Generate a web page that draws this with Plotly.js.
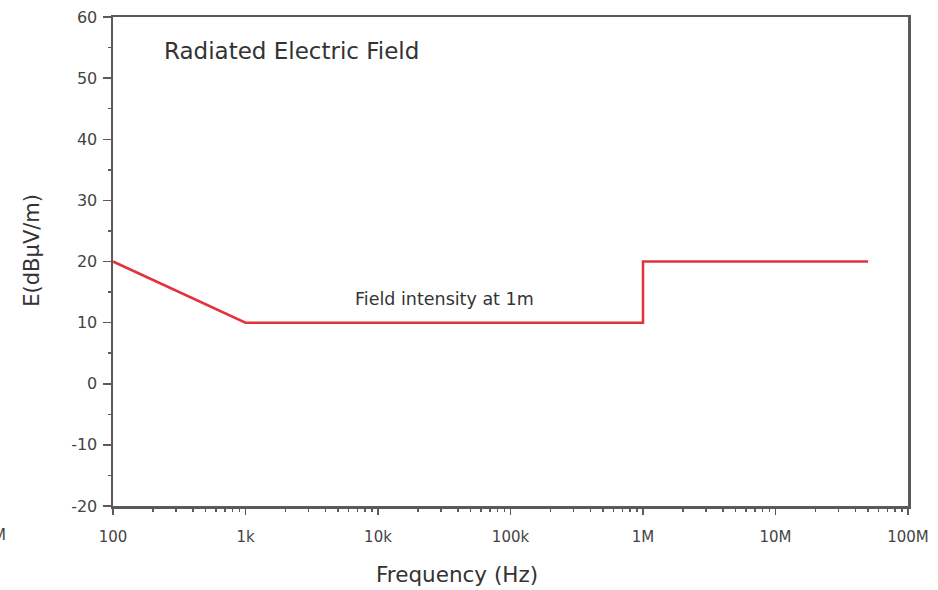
<!DOCTYPE html>
<html>
<head>
<meta charset="utf-8">
<script src="https://cdn.plot.ly/plotly-3.0.1.min.js"></script>
<style>html,body{margin:0;padding:0;background:#fff;}#chart{width:938px;height:590px;}</style>
</head>
<body>
<div id="chart"></div>
<script>
const freqHz = [100, 1000, 1e6, 1e6, 5e7];
const fieldDb = [20, 10, 10, 20, 20];
const yTickVals = [-20, -10, 0, 10, 20, 30, 40, 50, 60];
const yTickText = ["-20", "-10", "0", "10", "20", "30", "40", "50", "60"];
const xTickVals = [1e2, 1e3, 1e4, 1e5, 1e6, 1e7, 1e8];
const xTickText = ["100", "1k", "10k", "100k", "1M", "10M", "100M"];
const chartTitle = "Radiated Electric Field";
const curveLabel = "Field intensity at 1m";
const xTitle = "Frequency (Hz)";
const yTitle = "E(dBμV/m)";

const axisColor = "#5a5a5a";
const fontFam = "DejaVu Sans, Liberation Sans, Arial, sans-serif";

const trace = {
  x: freqHz, y: fieldDb, type: "scatter", mode: "lines",
  line: {color: "#e2323c", width: 2.5}, hoverinfo: "skip"
};

const layout = {
  width: 938, height: 590,
  margin: {l: 113, r: 30, t: 17, b: 84},
  paper_bgcolor: "#fff", plot_bgcolor: "#fff",
  showlegend: false,
  font: {family: fontFam, color: "#333"},
  xaxis: {
    type: "log", range: [2, 8],
    tickmode: "array", tickvals: xTickVals, ticktext: xTickText,
    showgrid: false, zeroline: false,
    showline: true, linecolor: axisColor, linewidth: 2.5, mirror: true,
    ticks: "outside", ticklen: 6, tickwidth: 1.5, tickcolor: axisColor,
    ticklabelstandoff: 9,
    tickfont: {size: 15, color: "#444"},
    minor: {dtick: "D1", ticks: "outside", ticklen: 3, tickwidth: 1.5, tickcolor: axisColor, showgrid: false}
  },
  yaxis: {
    range: [-20, 60],
    tickmode: "array", tickvals: yTickVals, ticktext: yTickText,
    showgrid: false, zeroline: false,
    showline: true, linecolor: axisColor, linewidth: 2.5, mirror: true,
    ticks: "outside", ticklen: 8, tickwidth: 1.5, tickcolor: axisColor,
    ticklabelstandoff: 2,
    tickfont: {size: 16, color: "#444"},
    minor: {dtick: 5, ticks: "outside", ticklen: 3, tickwidth: 1.5, tickcolor: axisColor, showgrid: false}
  },
  annotations: [
    {text: chartTitle, xref: "paper", yref: "paper", x: 0.062, y: 0.93, xanchor: "left", yanchor: "middle",
     showarrow: false, font: {size: 23, color: "#333"}},
    {text: curveLabel, xref: "x", yref: "y", x: 4.5, y: 13.8, xanchor: "center", yanchor: "middle",
     showarrow: false, font: {size: 17.5, color: "#333"}},
    {text: xTitle, xref: "paper", yref: "paper", x: 0.433, y: -0.141, xanchor: "center", yanchor: "middle",
     showarrow: false, font: {size: 21.5, color: "#333"}},
    {text: yTitle, xref: "paper", yref: "paper", x: -0.102, y: 0.524, xanchor: "center", yanchor: "middle",
     textangle: -90, showarrow: false, font: {size: 21, color: "#333"}},
    {text: "M", xref: "paper", yref: "paper", x: -0.132, y: -0.06, xanchor: "right", yanchor: "middle",
     showarrow: false, font: {size: 15, color: "#444"}}
  ]
};

Plotly.newPlot("chart", [trace], layout, {displayModeBar: false, staticPlot: true});
</script>
</body>
</html>
